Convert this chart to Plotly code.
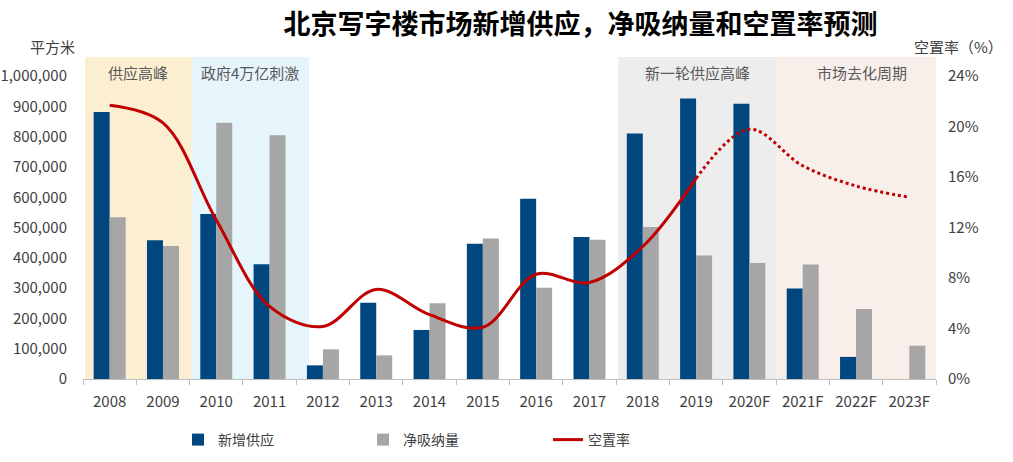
import plotly.graph_objects as go

years = ["2008", "2009", "2010", "2011", "2012", "2013", "2014", "2015",
         "2016", "2017", "2018", "2019", "2020F", "2021F", "2022F", "2023F"]
new_supply = [882000, 458000, 545000, 379000, 45000, 252000, 162000, 447000,
              595000, 469000, 811000, 926000, 909000, 299000, 73000, 0]
net_absorption = [534000, 439000, 846000, 805000, 98000, 78000, 250000, 464000,
                  301000, 460000, 502000, 408000, 383000, 378000, 231000, 110000]
vacancy_actual = [21.7, 20.3, 12.6, 5.75, 4.16, 7.1, 5.1, 4.1, 8.3, 7.65, 10.5, 15.9]
vacancy_forecast = [15.9, 19.8, 16.9, 15.3, 14.4]
left_ticks = [0, 100000, 200000, 300000, 400000, 500000, 600000, 700000, 800000, 900000, 1000000]
right_ticks = [0, 4, 8, 12, 16, 20, 24]
right_tick_text = ["0%", "4%", "8%", "12%", "16%", "20%", "24%"]
regions = [("供应高峰", -0.46, 1.54, "#FCEFD1"),
           ("政府4万亿刺激", 1.54, 3.74, "#E6F4FC"),
           ("新一轮供应高峰", 9.54, 12.51, "#EDEDED"),
           ("市场去化周期", 12.51, 15.7, "#F8EEEA")]

font_family = "Noto Sans CJK SC, Noto Sans, sans-serif"
fig = go.Figure()

fig.add_trace(go.Bar(x=years, y=new_supply, name="新增供应", marker_color="#00477F",
                     marker_line_width=0))
fig.add_trace(go.Bar(x=years, y=net_absorption, name="净吸纳量", marker_color="#A6A6A6",
                     marker_line_width=0))
fig.add_trace(go.Scatter(x=years[:12], y=vacancy_actual, name="空置率", yaxis="y2",
                         mode="lines", line=dict(color="#C00000", width=3, shape="spline")))
fig.add_trace(go.Scatter(x=years[11:], y=vacancy_forecast, name="空置率预测", yaxis="y2",
                         mode="lines", showlegend=False,
                         line=dict(color="#C00000", width=3, shape="spline", dash="dot")))

for label, x0, x1, color in regions:
    fig.add_shape(type="rect", xref="x", yref="y", x0=x0, x1=x1, y0=0, y1=1063000,
                  fillcolor=color, line_width=0, layer="below")
    fig.add_annotation(x=(x0 + x1) / 2, xref="x", y=(379 - 72) / 324, yref="paper", text=label,
                       xanchor="center", yanchor="middle",
                       showarrow=False, font=dict(size=15, color="#595959"))

fig.add_annotation(x=(52 - 83) / 853, xref="paper", xanchor="center",
                   y=(379 - 47) / 324, yref="paper", yanchor="middle", text="平方米",
                   showarrow=False, font=dict(size=15, color="#404040"))
fig.add_annotation(x=(1005 - 83) / 853, xref="paper", xanchor="right",
                   y=(379 - 47) / 324, yref="paper", yanchor="middle",
                   text="空置率（%）", showarrow=False, font=dict(size=15, color="#404040"))

fig.update_layout(
    width=1013, height=462,
    margin=dict(l=83, r=77, t=55, b=83, autoexpand=False),
    paper_bgcolor="white", plot_bgcolor="white",
    font=dict(family=font_family, color="#404040", size=13),
    title=dict(text="<b>北京写字楼市场新增供应，净吸纳量和空置率预测</b>",
               x=0.573, xanchor="center", y=1 - 25 / 462, yanchor="middle",
               font=dict(size=27, color="#000000", family=font_family)),
    barmode="group", bargap=0.4, bargroupgap=0,
    hovermode=False,
    showlegend=True,
    legend=dict(orientation="h", x=(178 - 83) / 853, xanchor="left", y=(379 - 440) / 324,
                yanchor="middle", entrywidth=140, entrywidthmode="pixels",
                font=dict(size=14, color="#404040"), bgcolor="rgba(0,0,0,0)"),
    xaxis=dict(type="category", range=[-0.5, 15.5], showgrid=False, automargin=False,
               showline=True, linecolor="#BFBFBF", linewidth=1,
               ticks="outside", tickson="boundaries", ticklen=5, tickcolor="#BFBFBF",
               ticklabelstandoff=9,
               tickfont=dict(size=15, color="#404040")),
    yaxis=dict(range=[0, 1070000], tickvals=left_ticks, tickformat=",d", automargin=False,
               showgrid=False, zeroline=False, showline=False, ticklabelstandoff=15,
               tickfont=dict(size=15, color="#404040")),
    yaxis2=dict(range=[0, 25.68], tickvals=right_ticks, ticktext=right_tick_text,
                tickmode="array", automargin=False, ticklabelstandoff=11,
                overlaying="y", side="right", showgrid=False, zeroline=False,
                showline=False, tickfont=dict(size=15, color="#404040")),
)

fig.write_html("out.html", config={"displayModeBar": False},
               post_script="document.body.style.margin='0';")
